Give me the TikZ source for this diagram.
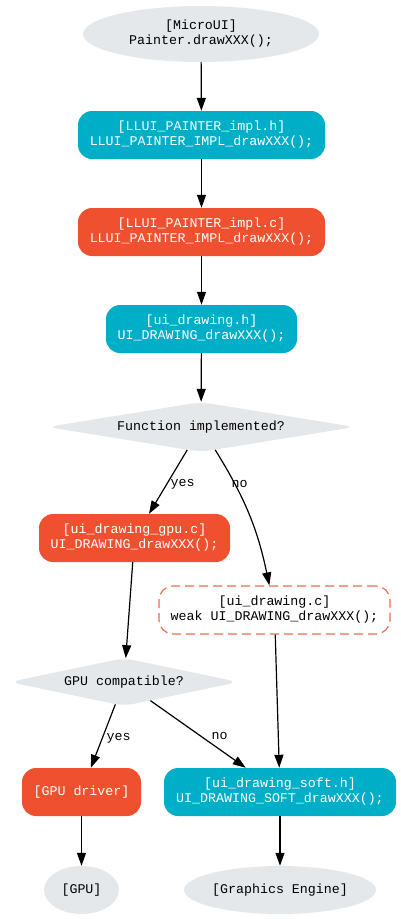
\documentclass[tikz,border=0pt]{standalone}
\usepackage{fontspec}
\setmonofont{Liberation Mono}
\usetikzlibrary{shapes.geometric,arrows.meta}
\definecolor{cyanbox}{HTML}{00AEC7}
\definecolor{orangebox}{HTML}{EF5130}
\definecolor{graybox}{HTML}{E5E8EB}
\definecolor{dashc}{HTML}{EE6B50}
\begin{document}
\begin{tikzpicture}[x=1pt,y=-1pt,
  every node/.style={font=\ttfamily\fontsize{13.3}{15}\selectfont, align=center, inner sep=0pt},
  ell/.style={ellipse, fill=graybox, text=black},
  cbox/.style={rectangle, rounded corners=14pt, fill=cyanbox, text=white, minimum height=48pt},
  obox/.style={rectangle, rounded corners=14pt, fill=orangebox, text=white, minimum height=48pt},
  dbox/.style={rectangle, rounded corners=14pt, draw=dashc, dash pattern=on 9pt off 5pt, line width=1.2pt, fill=white, minimum height=48pt},
  dia/.style={diamond, aspect=6.5, fill=graybox, rounded corners=10pt},
  conn/.style={-{Triangle[length=13pt,width=9pt]}, line width=1.2pt},
  lbl/.style={anchor=west, fill=none, text=black, yshift=-2pt}
]
\path[use as bounding box] (0,0) rectangle (401,919);

\node[ell, minimum width=236pt, minimum height=56pt] (mui) at (201,34) {[MicroUI]\\Painter.drawXXX();};
\node[cbox, minimum width=247pt] (llh) at (201.5,135) {[LLUI\_PAINTER\_impl.h]\\LLUI\_PAINTER\_IMPL\_drawXXX();};
\node[obox, minimum width=247pt] (llc) at (201.5,232) {[LLUI\_PAINTER\_impl.c]\\LLUI\_PAINTER\_IMPL\_drawXXX();};
\node[cbox, minimum width=191pt] (uih) at (201.5,329) {[ui\_drawing.h]\\UI\_DRAWING\_drawXXX();};
\node[dia, minimum width=308pt, minimum height=50pt] (fi) at (201,427) {Function implemented?};
\node[obox, minimum width=191pt] (gpuc) at (134.5,538) {[ui\_drawing\_gpu.c]\\UI\_DRAWING\_drawXXX();};
\node[dbox, minimum width=231pt] (uic) at (274.5,610) {[ui\_drawing.c]\\weak UI\_DRAWING\_drawXXX();};
\node[dia, minimum width=229pt, minimum height=48pt] (gc) at (124,682) {GPU compatible?};
\node[obox, minimum width=119pt] (drv) at (81.5,792) {[GPU driver]};
\node[cbox, minimum width=232pt] (soft) at (280,792) {[ui\_drawing\_soft.h]\\UI\_DRAWING\_SOFT\_drawXXX();};
\node[ell, minimum width=75pt, minimum height=48pt] (gpu) at (81.5,890) {[GPU]};
\node[ell, minimum width=188pt, minimum height=48pt] (ge) at (280,890) {[Graphics Engine]};

\draw[conn] (mui) -- (llh);
\draw[conn] (llh) -- (llc);
\draw[conn] (llc) -- (uih);
\draw[conn] (uih) -- (fi);
\draw[conn] (fi) -- node[lbl, pos=0.5, xshift=2pt]{yes} (gpuc);
\draw[conn] (fi) to[bend left=10] node[lbl, pos=0.24, xshift=-3pt]{no} (uic);
\draw[conn] (gpuc) -- (gc);
\draw[conn] (uic) -- (soft);
\draw[conn] (gc) -- node[lbl, pos=0.5, xshift=3pt]{yes} (drv);
\draw[conn] (gc) -- node[lbl, pos=0.5, xshift=13pt]{no} (soft);
\draw[conn] (drv) -- (gpu);
\draw[conn] (soft) -- (ge);
\end{tikzpicture}
\end{document}
